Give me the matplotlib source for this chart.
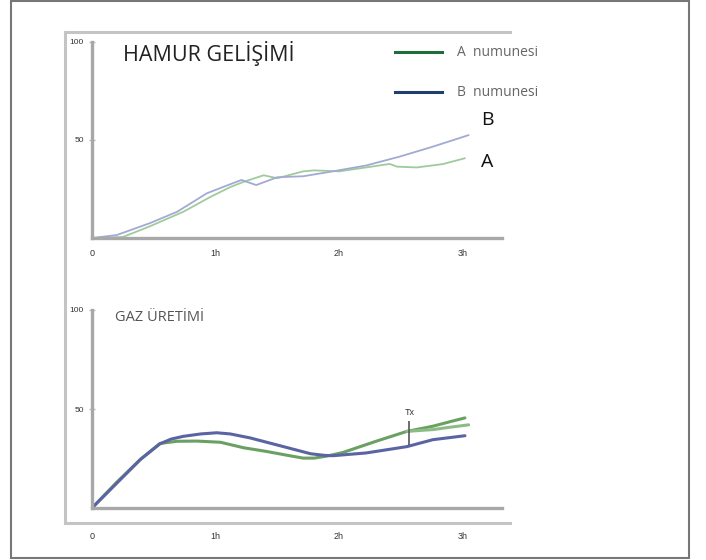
import matplotlib
matplotlib.use("Agg")
import matplotlib.pyplot as plt
from matplotlib.lines import Line2D

# dough development (top chart)
dough_t_a = [0, 0.25, 0.47, 0.74, 0.96, 1.12, 1.23, 1.39, 1.5, 1.71, 1.8, 2.0, 2.22, 2.41, 2.47, 2.63, 2.84, 3.02]
dough_a = [0, 0.5, 6, 13.4, 21, 26, 28.7, 32, 30.5, 34, 34.5, 34, 36, 37.8, 36.4, 36, 37.7, 40.7]
dough_t_b = [0, 0.2, 0.47, 0.69, 0.93, 1.06, 1.21, 1.33, 1.5, 1.71, 1.95, 2.22, 2.49, 2.76, 3.05]
dough_b = [0, 1.5, 7.6, 13.4, 22.8, 26, 29.6, 27, 31, 31.5, 34, 37, 41.5, 46.6, 52.5]

# gas production (bottom chart)
gas_t_a = [0, 0.2, 0.4, 0.55, 0.69, 0.85, 1.04, 1.23, 1.41, 1.6, 1.71, 1.8, 1.9, 2.03, 2.3, 2.55, 2.76, 2.9, 3.02]
gas_a = [0, 13, 25, 32.6, 33.7, 33.8, 33.2, 30.4, 28.6, 26.4, 25.2, 25.2, 26.2, 28, 33.7, 38.7, 41.3, 43.6, 45.5]
gas_t_a2 = [2.55, 2.76, 2.9, 3.05]
gas_a2 = [38.7, 39.6, 40.8, 42]
gas_t_b = [0, 0.2, 0.39, 0.55, 0.64, 0.74, 0.88, 1.01, 1.12, 1.28, 1.55, 1.77, 1.88, 1.95, 2.22, 2.55, 2.76, 3.02]
gas_b = [0, 12.5, 24.4, 32.4, 34.8, 36.2, 37.4, 38, 37.4, 35.4, 31, 27.4, 26.6, 26.4, 27.8, 31, 34.5, 36.5]

tx_time = 2.57
tx_low, tx_high = 32, 44

x_ticks = [0, 1, 2, 3]
x_labels = ["0", "1h", "2h", "3h"]
y_ticks = [50, 100]
y_labels = ["50", "100"]

W, H = 706, 560
fig = plt.figure(figsize=(W / 100, H / 100), dpi=100)

def fx(px):
    return px / W

def fy(py):
    return 1 - py / H

# outer border
fig.add_artist(plt.Rectangle((fx(11), fy(558)), fx(678), 557 / H, fill=False,
                             edgecolor="#777777", linewidth=1.5, transform=fig.transFigure))
# inner frame (top, left, bottom)
for xs, ys in [([65, 510], [32, 32]), ([65, 65], [32, 523]), ([65, 510], [523, 523])]:
    fig.add_artist(Line2D([fx(v) for v in xs], [fy(v) for v in ys], color="#c4c4c4",
                          linewidth=2.2, transform=fig.transFigure))

ax1 = fig.add_axes([fx(92), fy(238), fx(410), (238 - 42) / H])
ax2 = fig.add_axes([fx(92), fy(508), fx(410), (508 - 310) / H])

for ax, pad in [(ax1, 8), (ax2, 17)]:
    ax.set_xlim(0, 3.32)
    ax.set_ylim(0, 100)
    ax.patch.set_alpha(0)
    for s in ["top", "right"]:
        ax.spines[s].set_visible(False)
    for s in ["left", "bottom"]:
        ax.spines[s].set_color("#a8a8a8")
        ax.spines[s].set_linewidth(2.4)
    ax.set_xticks(x_ticks)
    ax.set_xticklabels(x_labels, fontsize=6.5, color="#333333", family="Liberation Sans")
    ax.set_yticks(y_ticks)
    ax.set_yticklabels(y_labels, fontsize=6, color="#333333", family="Liberation Sans")
    ax.tick_params(axis="x", length=0, pad=pad)
    ax.tick_params(axis="y", length=4, direction="inout", color="#bbbbbb", width=1, pad=4)

# top chart
ax1.plot(dough_t_a, dough_a, color="#9fcb9c", linewidth=1.3, solid_capstyle="round")
ax1.plot(dough_t_b, dough_b, color="#a2aad4", linewidth=1.3, solid_capstyle="round")
ax1.text(0.076, 0.94, "HAMUR GELİŞİMİ", transform=ax1.transAxes, fontsize=15.5,
         color="#222222", family="Open Sans", va="center", ha="left")
ax1.text(3.15, 60, "B", fontsize=14, color="#111111", family="Open Sans", va="center", ha="left")
ax1.text(3.15, 39, "A", fontsize=14, color="#111111", family="Open Sans", va="center", ha="left")

handles = [Line2D([], [], color="#1f6e3a", linewidth=2.2),
           Line2D([], [], color="#1f3f6e", linewidth=2.2)]
fig.legend(handles, ["A  numunesi", "B  numunesi"], loc="upper left",
           bbox_to_anchor=(fx(382), fy(33)), frameon=False,
           labelcolor="#666666", handlelength=3.4, handletextpad=1.1, labelspacing=1.8,
           prop={"family": "Open Sans", "size": 10})

# bottom chart
ax2.plot(gas_t_a, gas_a, color="#6aa062", linewidth=2.2, solid_capstyle="round")
ax2.plot(gas_t_a2, gas_a2, color="#8dbb86", linewidth=2.2, solid_capstyle="round")
ax2.plot(gas_t_b, gas_b, color="#5b64a3", linewidth=2.2, solid_capstyle="round")
ax2.vlines(tx_time, tx_low, tx_high, color="#555555", linewidth=1.2)
ax2.text(tx_time, tx_high + 2, "Tx", fontsize=6.5, color="#333333", ha="center", va="bottom",
         family="Liberation Sans")
ax2.text(0.056, 0.96, "GAZ ÜRETİMİ", transform=ax2.transAxes, fontsize=10.5,
         color="#555555", family="Open Sans", va="center", ha="left")

fig.savefig("out.png", dpi=100)
